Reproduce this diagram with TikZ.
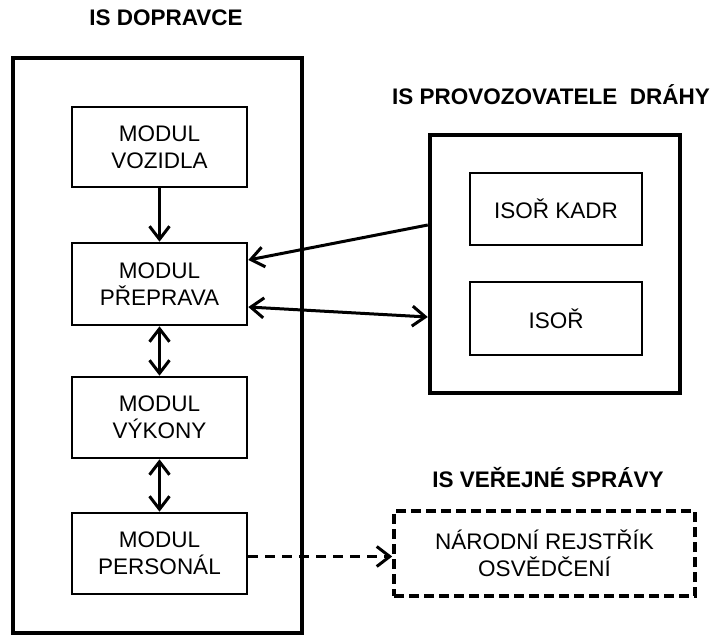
\documentclass[tikz,border=0pt]{standalone}
\usepackage{fontspec}
\setmainfont{Liberation Sans}
\usetikzlibrary{arrows.meta}
\tikzset{
  sysbox/.style={draw, line width=4.5pt, inner sep=0pt},
  modbox/.style={draw, line width=2.6pt, inner sep=0pt, align=center,
    font=\fontsize{22.5}{27}\selectfont},
  extbox/.style={draw, line width=3.6pt, dash pattern=on 10pt off 5pt,
    inner sep=0pt, align=center, font=\fontsize{22.5}{27}\selectfont},
  systitle/.style={font=\fontsize{22.5}{27}\selectfont\bfseries},
  link/.style={line width=3pt, -{Straight Barb[length=13pt,width=20pt]}},
  duallink/.style={line width=3pt, {Straight Barb[length=13pt,width=20pt]}-{Straight Barb[length=13pt,width=20pt]}},
  dashlink/.style={line width=3pt, dash pattern=on 10pt off 7pt,
    -{Straight Barb[length=13pt,width=20pt]}}
}
\begin{document}
\begin{tikzpicture}[x=1pt,y=-1pt]
\useasboundingbox (0,0) rectangle (718,637);

% carrier information system
\node[systitle] (tdop) at (166,18) {IS DOPRAVCE};
\node[sysbox, minimum width=289pt, minimum height=575pt] (dop) at (157.5,345.5) {};
\node[modbox, minimum width=175pt, minimum height=80pt] (voz) at (159.5,147) {MODUL\\VOZIDLA};
\node[modbox, minimum width=175pt, minimum height=82pt] (prep) at (159.5,284) {MODUL\\PŘEPRAVA};
\node[modbox, minimum width=175pt, minimum height=81pt] (vyk) at (159.5,417.5) {MODUL\\VÝKONY};
\node[modbox, minimum width=175pt, minimum height=81pt] (pers) at (159.5,553.5) {MODUL\\PERSONÁL};

% infrastructure manager system
\node[systitle] (tprov) at (551,95) {IS PROVOZOVATELE\ \ DRÁHY};
\node[sysbox, minimum width=250pt, minimum height=258pt] (prov) at (555,264) {};
\node[modbox, minimum width=172pt, minimum height=72pt] (kadr) at (556,209) {ISOŘ KADR};
\node[modbox, minimum width=172pt, minimum height=73pt] (isor) at (556,318.5) {ISOŘ};

% public administration system
\node[systitle] (tver) at (548,478) {IS VEŘEJNÉ SPRÁVY};
\node[extbox, minimum width=301pt, minimum height=85pt] (nr) at (544.5,553.5) {NÁRODNÍ REJSTŘÍK\\OSVĚDČENÍ};

% connections
\draw[link] (voz.south) -- (prep.north);
\draw[duallink] (prep.south) -- (vyk.north);
\draw[duallink] (vyk.south) -- (pers.north);
\draw[link] ([yshift=39pt]prov.west) -- ([yshift=24pt]prep.east);
\draw[duallink] ([yshift=-23pt]prep.east) -- ([yshift=-53pt]prov.west);
\draw[dashlink] ([yshift=-3pt]pers.east) -- ([yshift=-3pt]nr.west);
\end{tikzpicture}
\end{document}
